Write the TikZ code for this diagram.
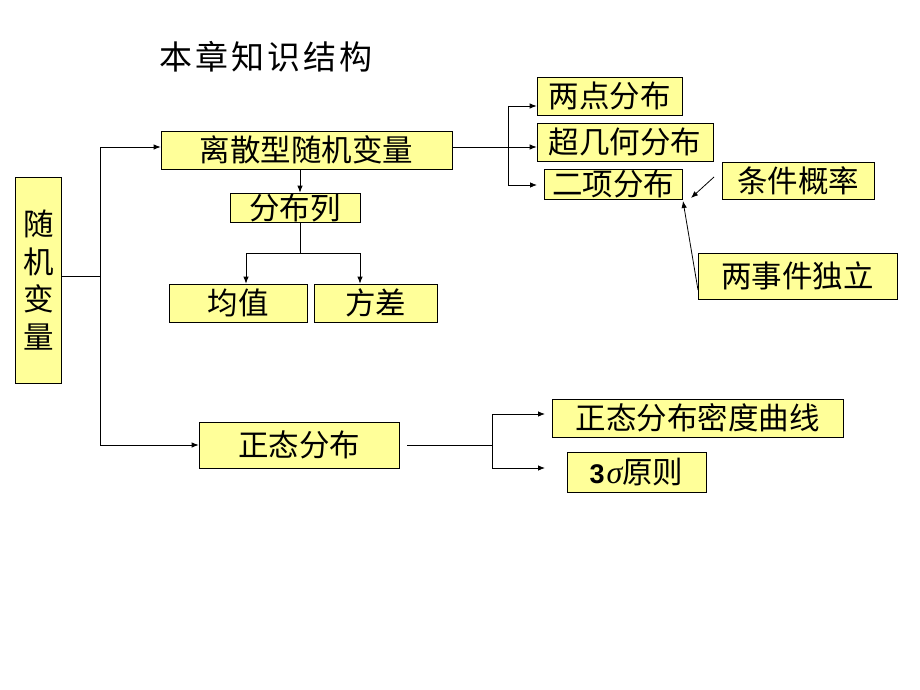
\documentclass[tikz,border=0pt]{standalone}
\usepackage{fontspec}
\newfontfamily\cjk{Noto Sans CJK SC}
\newfontfamily\cjktitle[LetterSpace=9]{Noto Sans CJK SC}
\newfontfamily\arialf{Liberation Sans}
\newfontfamily\timesf{Liberation Serif}
\usetikzlibrary{arrows.meta}
\definecolor{boxyellow}{HTML}{FFFF99}
\begin{document}
\begin{tikzpicture}[x=1pt,y=-1pt,
  box/.style={draw=black, line width=0.8pt, fill=boxyellow, inner sep=0pt,
    font=\cjk\fontsize{30.5}{32}\selectfont, anchor=center},
  ln/.style={line width=0.8pt},
  conn/.style={line width=0.8pt, -{Latex[length=7pt,width=5.5pt]}}]
\useasboundingbox (0,0) rectangle (920,690);
\fill[white] (0,0) rectangle (920,690);

\node[font=\cjktitle\fontsize{33}{36}\selectfont] (title) at (266,57) {本章知识结构};

\node[box, minimum width=46pt, minimum height=206pt, align=center,
  font=\cjk\fontsize{30.5}{37.5}\selectfont] (suiji) at (38.5,280) {随\\机\\变\\量};
\node[box, minimum width=291pt, minimum height=38pt] (lisan) at (306.5,150) {离散型随机变量};
\node[box, minimum width=130pt, minimum height=29pt] (fenbulie) at (295,207.5) {分布列};
\node[box, minimum width=138pt, minimum height=38pt] (junzhi) at (238,303) {均值};
\node[box, minimum width=123pt, minimum height=38pt] (fangcha) at (375.5,303) {方差};
\node[box, minimum width=200pt, minimum height=46pt] (zhengtai) at (299,445) {正态分布};
\node[box, minimum width=145pt, minimum height=38pt] (liangdian) at (609.5,96) {两点分布};
\node[box, minimum width=176pt, minimum height=38pt] (chaojihe) at (625,142) {超几何分布};
\node[box, minimum width=138pt, minimum height=30pt] (erxiang) at (613,184) {二项分布};
\node[box, minimum width=152pt, minimum height=37pt] (tiaojian) at (798,180.5) {条件概率};
\node[box, minimum width=199pt, minimum height=46pt] (duli) at (797.5,276) {两事件独立};
\node[box, minimum width=291pt, minimum height=38pt] (midu) at (697.5,418) {正态分布密度曲线};
\node[box, minimum width=139pt, minimum height=40pt] (sansigma) at (636.5,472)
  {{\arialf\bfseries\fontsize{27}{28}\selectfont 3}\hspace{2pt}{\timesf\itshape\fontsize{32}{34}\selectfont σ}{\cjk\fontsize{30.5}{32}\selectfont 原则}\hspace{16pt}};

% left bus
\coordinate (b0) at (100,276);
\coordinate (b1) at (100,147);
\coordinate (b2) at (100,445);
\draw[ln] (suiji.east |- b0) -- (b0);
\draw[ln] (b1) -- (b2);
\draw[conn] (b1) -- (b1 -| lisan.west);
\draw[conn] (b2) -- (zhengtai.west);

% lisan -> fenbulie
\coordinate (f0) at (300,253);
\draw[conn] (lisan.south -| f0) -- (fenbulie.north -| f0);
\draw[ln] (fenbulie.south -| f0) -- (f0);
\coordinate (fl) at (246,253);
\coordinate (fr) at (360,253);
\draw[ln] (fl) -- (fr);
\draw[conn] (fl) -- (fl |- junzhi.north);
\draw[conn] (fr) -- (fr |- fangcha.north);

% right bus from lisan
\coordinate (r0) at (508,147);
\coordinate (r1) at (508,106);
\coordinate (r2) at (508,185);
\coordinate (r2e) at (537,185);
\draw[ln] (b1 -| lisan.east) -- (r0);
\draw[ln] (r1) -- (r2);
\draw[conn] (r1) -- (r1 -| liangdian.west);
\draw[conn] (r0) -- (r0 -| chaojihe.west);
\draw[conn] (r2) -- (r2e);

% arrows to erxiang
\coordinate (t1) at (714,177);
\coordinate (t2) at (691,198);
\draw[conn] (t1) -- (t2);
\coordinate (d1) at (698,290);
\coordinate (d2) at (683,201);
\draw[conn] (d1) -- (d2);

% lower bus
\coordinate (z1) at (407,445);
\coordinate (z2) at (492,445);
\coordinate (z3) at (492,414);
\coordinate (z4) at (492,468);
\coordinate (z3e) at (545,414);
\coordinate (z4e) at (545,468);
\draw[ln] (z1) -- (z2);
\draw[ln] (z3) -- (z4);
\draw[conn] (z3) -- (z3e);
\draw[conn] (z4) -- (z4e);
\end{tikzpicture}
\end{document}
